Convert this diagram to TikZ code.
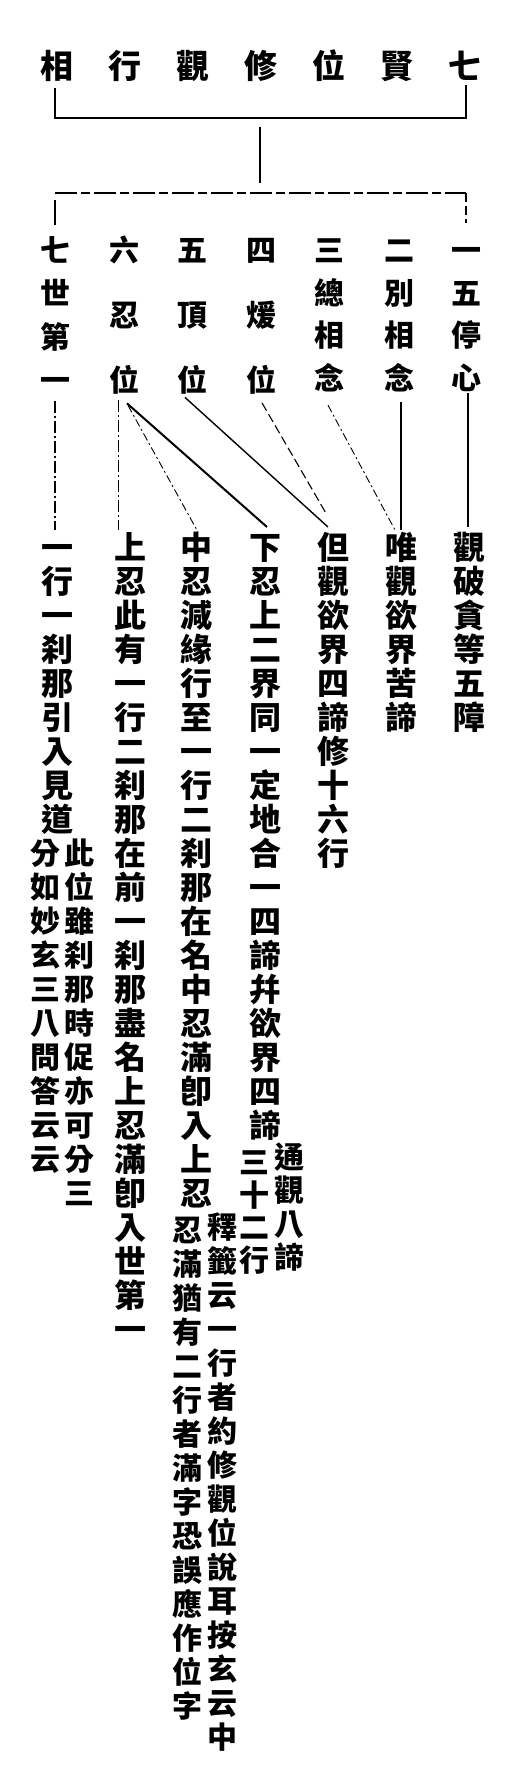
\documentclass[tikz,border=0pt]{standalone}
\usepackage{fontspec}
\newfontfamily\cjk{Noto Sans CJK TC}
\newcommand\vtcell[2]{\hbox to 1.1em{\hss\vrule width 0pt height \dimexpr #1/2 + 0.38em\relax depth \dimexpr #1/2 - 0.38em\relax\smash{#2}\hss}}
\newcommand\htcell[2]{\hbox to #1{\hss\vrule width 0pt height \dimexpr 20pt + 0.38em\relax depth \dimexpr 20pt - 0.38em\relax\smash{#2}\hss}}
\ExplSyntaxOn
\tl_new:N \l_my_rev_tl
\NewDocumentCommand\vcol{mm}{\vbox{\offinterlineskip\tl_map_inline:nn{#2}{\vtcell{#1}{##1}}}}
\NewDocumentCommand\rtlrow{mm}{\tl_set:Nn \l_my_rev_tl {#2}\tl_reverse:N \l_my_rev_tl \hbox{\tl_map_inline:Nn \l_my_rev_tl {\htcell{#1}{##1}}}}
\ExplSyntaxOff
\tikzset{
  col/.style={anchor=north, inner sep=0pt},
  ftitle/.style={font=\cjk\bfseries\fontsize{33}{33}\selectfont},
  fsec/.style={font=\cjk\bfseries\fontsize{30}{30}\selectfont},
  fthird/.style={font=\cjk\bfseries\fontsize{32}{32}\selectfont},
  fnote/.style={font=\cjk\bfseries\fontsize{30}{30}\selectfont},
  heavy/.style={line width=2pt},
  medium/.style={line width=1.4pt},
  light/.style={line width=1.1pt},
  brokenline/.style={line width=1.5pt, dash pattern=on 22pt off 4pt on 9pt off 4pt},
  dashdot/.style={line width=1pt, dash pattern=on 12pt off 3pt on 2pt off 3pt},
  finedash/.style={line width=0.9pt, dash pattern=on 8pt off 3pt on 2pt off 3pt},
  plaindash/.style={line width=1.1pt, dash pattern=on 9pt off 4pt},
}
\begin{document}
\begin{tikzpicture}[x=1pt,y=-1pt]
\useasboundingbox (0,0) rectangle (504,1776);
% title (read right to left)
\node[ftitle, inner sep=0pt] (title) at (261,66) {\rtlrow{68pt}{七賢位修觀行相}};
% second row
\node[col,fsec] (A) at (55,228.4) {\vcol{43.3pt}{七世第一}};
\node[col,fsec] (B) at (124,217.5) {\vcol{65pt}{六忍位}};
\node[col,fsec] (C) at (192,217.5) {\vcol{65pt}{五頂位}};
\node[col,fsec] (D) at (261,217.5) {\vcol{65pt}{四煖位}};
\node[col,fsec] (E) at (329,228.8) {\vcol{42.5pt}{三總相念}};
\node[col,fsec] (F) at (399,228.8) {\vcol{42.5pt}{二別相念}};
\node[col,fsec] (G) at (466,228.8) {\vcol{42.5pt}{一五停心}};
% third row
\node[col,fthird] (H) at (469,530) {\vcol{34pt}{觀破貪等五障}};
\node[col,fthird] (I) at (401,530) {\vcol{34pt}{唯觀欲界苦諦}};
\node[col,fthird] (J) at (333,530) {\vcol{34pt}{但觀欲界四諦修十六行}};
\node[col,fthird] (K) at (265,530) {\vcol{34pt}{下忍上二界同一定地合一四諦幷欲界四諦}};
\node[col,fnote] (K1) at (289,1140) {\vcol{33.5pt}{通觀八諦}};
\node[col,fnote] (K2) at (254,1146) {\vcol{32.5pt}{三十二行}};
\node[col,fthird] (L) at (196,530) {\vcol{34pt}{中忍減緣行至一行二刹那在名中忍滿卽入上忍}};
\node[col,fnote] (L1) at (222,1210) {\vcol{34pt}{釋籤云一行者約修觀位說耳按玄云中}};
\node[col,fnote] (L2) at (187,1213) {\vcol{34pt}{忍滿猶有二行者滿字恐誤應作位字}};
\node[col,fthird] (M) at (130,530) {\vcol{34pt}{上忍此有一行二刹那在前一刹那盡名上忍滿卽入世第一}};
\node[col,fthird] (N) at (57,530) {\vcol{34pt}{一行一刹那引入見道}};
\node[col,fnote] (N1) at (79,836) {\vcol{34pt}{此位雖刹那時促亦可分三}};
\node[col,fnote] (N2) at (46,836) {\vcol{34pt}{分如妙玄三八問答云云}};
% brackets
\coordinate (b1) at (261,118);
\coordinate (b2) at (261,193);
\draw[heavy] ([shift={(-206,22)}]title.center) |- (b1) -| ([shift={(205,19)}]title.center);
\draw[heavy] ([shift={(-1,9)}]b1) -- ([shift={(-1,-10)}]b2);
\draw[brokenline] (A.north |- b2) -- (G.north |- b2);
\draw[heavy] ([shift={(0,-28)}]A.north) -- ([shift={(0,-3)}]A.north);
\draw[plaindash, line width=1.6pt] ([shift={(0,-36)}]G.north) -- ([shift={(0,-6)}]G.north);
% connectors second -> third row
\draw[heavy] ([shift={(2,-6)}]G.south) -- ([shift={(-1,-3)}]H.north);
\draw[light] ([shift={(2,3)}]F.south) -- ([shift={(0,0)}]I.north);
\draw[finedash] ([shift={(-1,6)}]E.south) -- ([shift={(-6,0)}]I.north);
\draw[plaindash] ([shift={(1,-10)}]D.south) -- ([shift={(-6,-15)}]J.north);
\draw[medium] ([shift={(-7,-15.5)}]C.south) -- ([shift={(-5,-3)}]J.north);
\draw[heavy] ([shift={(3,-9.5)}]B.south) -- ([shift={(2,-3)}]K.north);
\draw[finedash] ([shift={(4,-7.5)}]B.south) -- ([shift={(2,2)}]L.north);
\draw[dashdot] ([shift={(-6,-12.5)}]B.south) -- ([shift={(-12,0)}]M.north);
\draw[dashdot, line width=1.3pt] ([shift={(0,-1.5)}]A.south) -- ([shift={(-2,0)}]N.north);
\end{tikzpicture}
\end{document}
